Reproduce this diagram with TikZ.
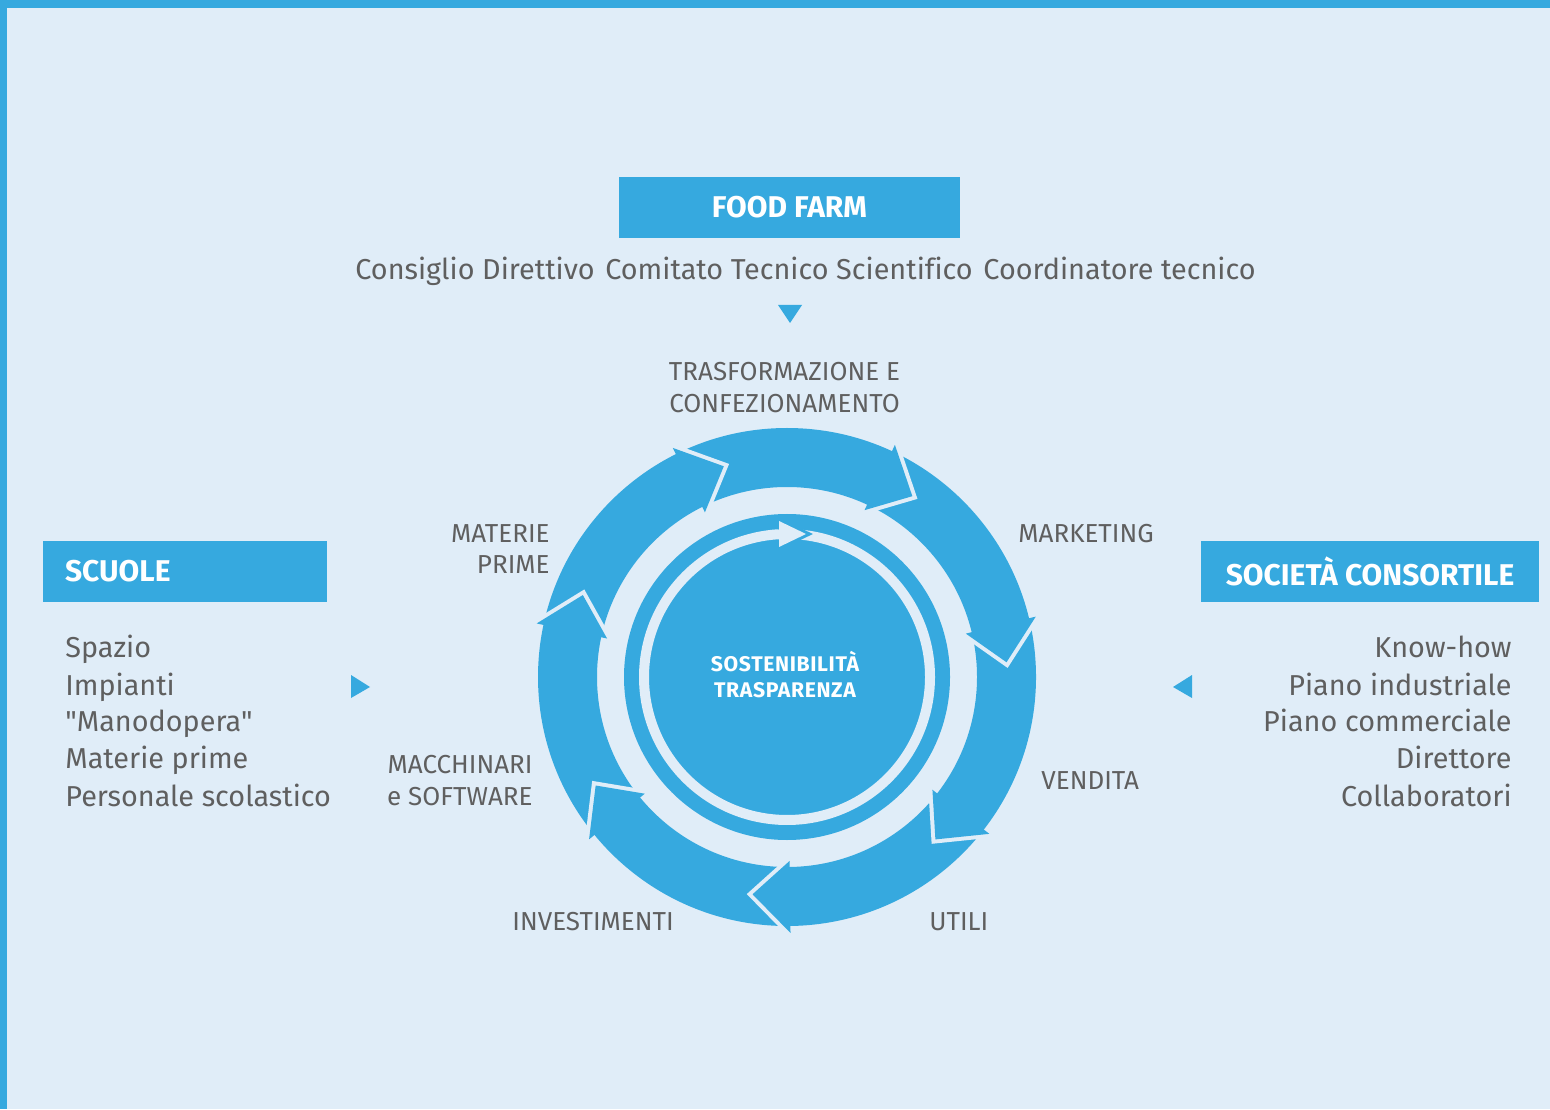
\documentclass[tikz,border=0pt]{standalone}
\usepackage{fontspec}
\setmainfont{Fira Sans}[Ligatures={TeXOff,NoCommon}]
\usetikzlibrary{calc}
\definecolor{bg}{HTML}{E0EDF8}
\definecolor{fb}{HTML}{36A9DF}
\definecolor{tx}{HTML}{5F5F5F}
\begin{document}
\begin{tikzpicture}[x=0.5pt,y=0.5pt,
  txt/.style={inner sep=0pt, text=tx, font=\fontsize{14.4pt}{17pt}\selectfont},
  lab/.style={inner sep=0pt, text=tx, font=\fontsize{13pt}{15pt}\selectfont},
  titlebox/.style={fill=fb, text=white, inner sep=0pt, minimum height=30.5pt, font=\bfseries\fontsize{15pt}{17pt}\selectfont},
  ctr/.style={inner sep=0pt, text=white, font=\bfseries\fontsize{10.6pt}{12pt}\selectfont\addfontfeature{LetterSpace=3}},
  tri/.style={fill=fb}]
% background and frame
\fill[bg] (0,0) rectangle (1550,1109);
\fill[fb] (0,0) rectangle (7,1109);
\fill[fb] (0,1101) rectangle (1550,1109);
\useasboundingbox (0,0) rectangle (1550,1109);

% title boxes
\node[titlebox, minimum width=170.5pt] (ff) at (789.5,901.5) {FOOD FARM};
\node[titlebox, minimum width=142pt, text width=120pt, align=left, inner xsep=11pt] (sc) at (185,537.5) {SCUOLE};
\node[titlebox, minimum width=169pt] (so) at (1370,537.5) {SOCIET\`A CONSORTILE};

% top line
\node[txt, anchor=base] (t1) at (475,829.7) {Consiglio Direttivo};
\node[txt, anchor=base] (t2) at (789,829.7) {Comitato Tecnico Scientifico};
\node[txt, anchor=base] (t3) at (1119.5,829.7) {Coordinatore tecnico};

% left list
\node[txt, anchor=base west] (l1) at (65,451.7) {Spazio};
\node[txt, anchor=base west] (l2) at (65,414) {Impianti};
\node[txt, anchor=base west] (l3) at (65,377.3) {"Manodopera"};
\node[txt, anchor=base west] (l4) at (65,340.7) {Materie prime};
\node[txt, anchor=base west] (l5) at (65,303) {Personale scolastico};

% right list
\node[txt, anchor=base east] (r1) at (1512,451.7) {Know-how};
\node[txt, anchor=base east] (r2) at (1512,414) {Piano industriale};
\node[txt, anchor=base east] (r3) at (1512,377.3) {Piano commerciale};
\node[txt, anchor=base east] (r4) at (1512,340.7) {Direttore};
\node[txt, anchor=base east] (r5) at (1512,303) {Collaboratori};

% pointer triangles
\fill[tri] (778,804) -- (802,804) -- (790,786) -- cycle;
\fill[tri] (351,434) -- (351,411) -- (370,422) -- cycle;
\fill[tri] (1192,434) -- (1192,411) -- (1173,422) -- cycle;

% cycle
\coordinate (C) at (787,432);
\fill[fb, even odd rule] (C) circle[radius=249] (C) circle[radius=190];
\foreach \k in {0,...,6}{
  \pgfmathsetmacro\a{116.5-51.4286*\k}
  \pgfmathsetmacro\t{\a-9.8}
  \draw[bg, line width=4pt, line join=miter] ($(C)+(\a:256)$) -- ($(C)+(\t:220)$) -- ($(C)+(\a:184)$);
  \fill[fb] ($(C)+(\a:256)$) -- ($(C)+(\t:220)$) -- ($(C)+(\a:184)$) -- cycle;
}
% inner disc with circular arrow
\fill[fb] (C) circle[radius=163];
\draw[bg, line width=5pt] ($(C)+(86.8:143)$) arc[start angle=86.8, end angle=-266.8, radius=143];
\draw[fb, line width=3pt, line join=miter] (779,588) -- (806,575) -- (779,562);
\fill[bg] (779,588) -- (806,575) -- (779,562) -- cycle;

\node[ctr, anchor=base] (c1) at (785,438) {SOSTENIBILIT\`A};
\node[ctr, anchor=base] (c2) at (785,412) {TRASPARENZA};

% ring labels
\node[lab, anchor=base] (a1) at (784.5,728) {TRASFORMAZIONE E};
\node[lab, anchor=base] (a2) at (784.5,696) {CONFEZIONAMENTO};
\node[lab, anchor=base west] (a3) at (1018,567) {MARKETING};
\node[lab, anchor=base west] (a4) at (1041,320) {VENDITA};
\node[lab, anchor=base west] (a5) at (929,179) {UTILI};
\node[lab, anchor=base west] (a6) at (512,179) {INVESTIMENTI};
\node[lab, anchor=base east] (a7) at (533,336) {MACCHINARI};
\node[lab, anchor=base east] (a8) at (533,304) {e SOFTWARE};
\node[lab, anchor=base east] (a9) at (550,567) {MATERIE};
\node[lab, anchor=base east] (a10) at (550,535) {PRIME};
\end{tikzpicture}
\end{document}
